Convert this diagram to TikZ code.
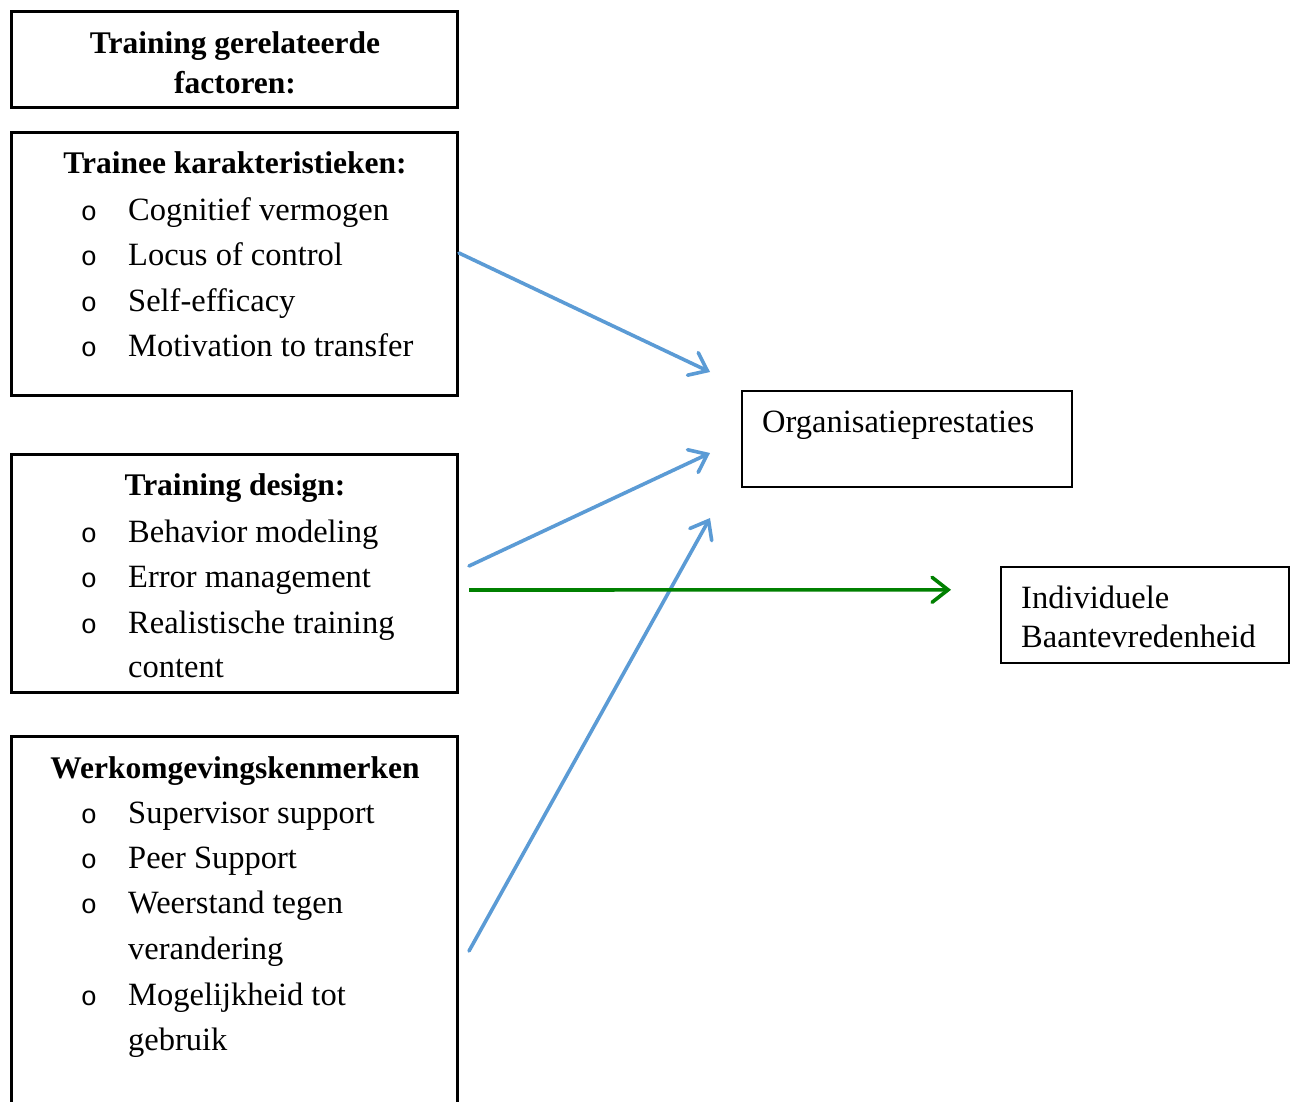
\documentclass[tikz,border=0pt]{standalone}
\usepackage{fontspec}
\setmainfont{Liberation Serif}
\newfontfamily\bulletfont{Liberation Mono}
\usetikzlibrary{arrows.meta,calc}
\definecolor{arrowblue}{HTML}{5B9BD5}
\definecolor{arrowgreen}{HTML}{008000}
\tikzset{
  thickbox/.style={draw=black, line width=3pt, inner sep=0pt, anchor=north west},
  thinbox/.style={draw=black, line width=1.6pt, inner sep=0pt, anchor=north west},
  ttl/.style={font=\fontsize{31.5}{38}\selectfont\bfseries, anchor=base, inner sep=0pt},
  itm/.style={font=\fontsize{32.5}{39}\selectfont, anchor=base west, inner sep=0pt},
  bul/.style={font=\bulletfont\fontsize{27}{30}\selectfont, anchor=base, inner sep=0pt},
  bluearrow/.style={draw=arrowblue, line width=3.6pt, line cap=round, -{Straight Barb[length=16pt,width=25pt,line cap=round]}},
  greenarrow/.style={draw=arrowgreen, line width=3.6pt, -{Straight Barb[length=16pt,width=25pt,line cap=round]}},
}
\begin{document}
\begin{tikzpicture}[x=1pt,y=-1pt]
\clip (0,0) rectangle (1293,1101);
\fill[white] (0,0) rectangle (1293,1101);

% boxes
\node[thickbox, minimum width=446, minimum height=96] (b1) at (10,10) {};
\node[thickbox, minimum width=446, minimum height=263] (b2) at (10,131) {};
\node[thickbox, minimum width=446, minimum height=238] (b3) at (10,453) {};
\node[thickbox, minimum width=446, minimum height=420] (b4) at (10,735) {};
\node[thinbox, minimum width=330, minimum height=96] (org) at (741,390) {};
\node[thinbox, minimum width=288, minimum height=96] (ind) at (1000,566) {};

% box 1
\node[ttl] (t1a) at (235,53) {Training gerelateerde};
\node[ttl] (t1b) at (235,93) {factoren:};

% box 2
\node[ttl] (t2) at (235,173) {Trainee karakteristieken:};
\node[bul] (o21) at (89,220) {o};
\node[itm] (i21) at (128,220) {Cognitief vermogen};
\node[bul] (o22) at (89,265) {o};
\node[itm] (i22) at (128,265) {Locus of control};
\node[bul] (o23) at (89,311) {o};
\node[itm] (i23) at (128,311) {Self-efficacy};
\node[bul] (o24) at (89,356) {o};
\node[itm] (i24) at (128,356) {Motivation to transfer};

% box 3
\node[ttl] (t3) at (235,495) {Training design:};
\node[bul] (o31) at (89,542) {o};
\node[itm] (i31) at (128,542) {Behavior modeling};
\node[bul] (o32) at (89,587) {o};
\node[itm] (i32) at (128,587) {Error management};
\node[bul] (o33) at (89,633) {o};
\node[itm] (i33) at (128,633) {Realistische training};
\node[itm] (i34) at (128,677) {content};

% box 4
\node[ttl] (t4) at (235,778) {Werkomgevingskenmerken};
\node[bul] (o41) at (89,823) {o};
\node[itm] (i41) at (128,823) {Supervisor support};
\node[bul] (o42) at (89,868) {o};
\node[itm] (i42) at (128,868) {Peer Support};
\node[bul] (o43) at (89,913) {o};
\node[itm] (i43) at (128,913) {Weerstand tegen};
\node[itm] (i44) at (128,959) {verandering};
\node[bul] (o45) at (89,1005) {o};
\node[itm] (i45) at (128,1005) {Mogelijkheid tot};
\node[itm] (i46) at (128,1050) {gebruik};

% outcome texts
\node[itm] (orgtxt) at (762,432) {Organisatieprestaties};
\node[itm] (indtxt1) at (1021,608) {Individuele};
\node[itm] (indtxt2) at (1021,647) {Baantevredenheid};

% arrow end points
\coordinate (e1) at ($(org.north west)+(-31,-18)$);
\coordinate (e2) at ($(org.north west)+(-31,63)$);
\coordinate (e3) at ($(org.north west)+(-31,128)$);
\coordinate (eg) at ($(ind.west)+(-49,-25)$);

% connectors
\draw[bluearrow] ($(b2.north east)+(0,122)$) -- (e1);
\draw[bluearrow] ($(b3.north east)+(10,113)$) -- (e2);
\draw[bluearrow] ($(b4.north east)+(10,216)$) -- (e3);
\draw[greenarrow] ($(b3.north east)+(10,137)$) -- (eg);
\end{tikzpicture}
\end{document}
